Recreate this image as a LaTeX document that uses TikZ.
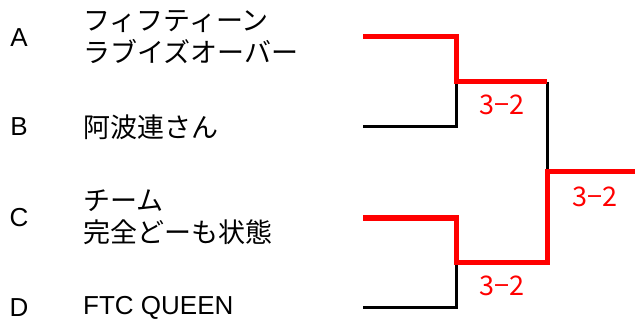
\documentclass[tikz,border=0pt]{standalone}
\usepackage{fontspec}
\setmainfont{Liberation Sans}
\newfontfamily\jp{Noto Sans CJK JP}
\begin{document}
\begin{tikzpicture}[x=1pt,y=-1pt,
  lose/.style={line width=3pt, black},
  win/.style={line width=5pt, red, line join=miter},
  score/.style={text=red, inner sep=0pt, font=\jp\fontsize{27}{30}\selectfont},
  seed/.style={inner sep=0pt, font=\fontsize{26}{30}\selectfont},
  team/.style={anchor=west, align=left, inner sep=0pt, font=\jp\fontsize{27}{32}\selectfont}]
\useasboundingbox (0,0) rectangle (635,326);
% seeds
\node[seed] (sa) at (19,38) {A};
\node[seed] (sb) at (19,127) {B};
\node[seed] (sc) at (19,218) {C};
\node[seed] (sd) at (19,308) {D};
% teams
\node[team] (ta) at (83,37.5) {フィフティーン\\ラブイズオーバー};
\node[team] (tb) at (83,127) {阿波連さん};
\node[team] (tc) at (83,217.5) {チーム\\完全どーも状態};
\node[team, font=\fontsize{26}{30}\selectfont] (td) at (83,308) {FTC QUEEN};
% bracket points
\coordinate (a0) at (363,37);  \coordinate (a1) at (456,37);
\coordinate (b0) at (363,127); \coordinate (b1) at (456,127);
\coordinate (m1) at (456,82);  \coordinate (m1e) at (547,82);
\coordinate (c0) at (363,218); \coordinate (c1) at (456,218);
\coordinate (d0) at (363,307); \coordinate (d1) at (456,307);
\coordinate (m2) at (456,262); \coordinate (m2e) at (547,262);
\coordinate (f) at (547,172);  \coordinate (fe) at (635,172);
% losers
\draw[lose] (b0) -- (b1) -- (m1);
\draw[lose] (d0) -- (d1) -- (m2);
\draw[lose] (m1e) -- (f);
% winners
\draw[win] (a0) -- (a1) -- (m1) -- (m1e);
\draw[win] (c0) -- (c1) -- (m2) -- (m2e) -- (f) -- (fe);
% scores
\node[score] (s1) at (502,105) {3−2};
\node[score] (s2) at (502,286) {3−2};
\node[score] (s3) at (595,197) {3−2};
\end{tikzpicture}
\end{document}
